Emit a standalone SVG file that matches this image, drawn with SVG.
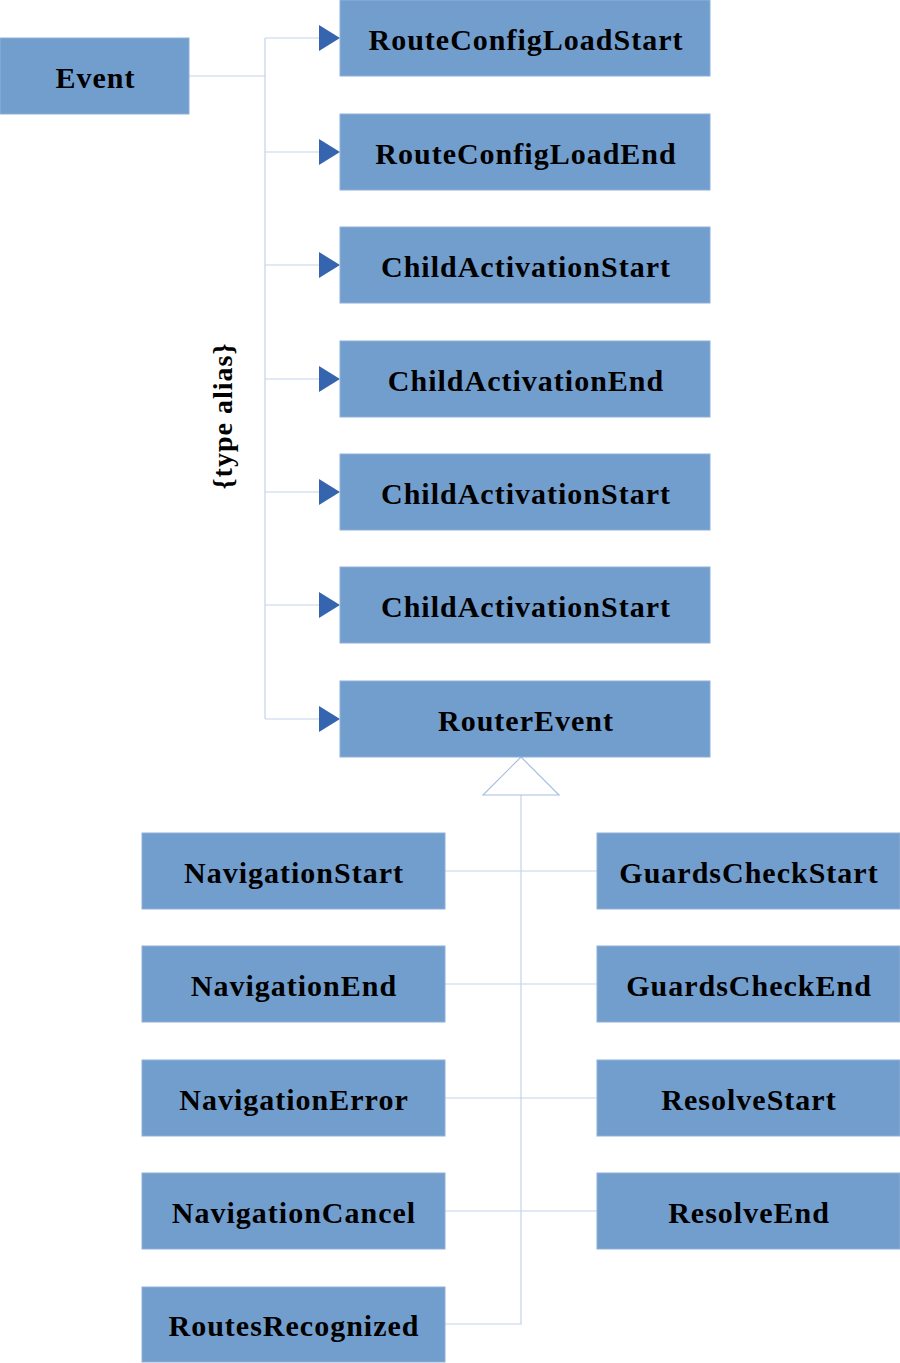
<svg xmlns="http://www.w3.org/2000/svg" width="900" height="1363" viewBox="0 0 900 1363">
<defs>
<style>
.box{fill:#729ece;stroke:#8fb0d8;stroke-width:1}
.t{font-family:"Liberation Serif",serif;font-weight:bold;font-size:30px;letter-spacing:1px;fill:#000;text-anchor:middle;dominant-baseline:central}
.ta{font-family:"Liberation Serif",serif;font-weight:bold;font-size:28px;letter-spacing:1px;fill:#000;text-anchor:middle;dominant-baseline:central}
.ln{fill:none;stroke:#c3d3ea;stroke-width:1.2}
.ah{fill:#3465ae}
</style>
</defs>
<rect width="900" height="1363" fill="#fff"/>
<g id="connectors">
<path class="ln" d="M189,76H265M265,38V719M265,38H320M265,152H320M265,265H320M265,379H320M265,492H320M265,605H320M265,719H320"/>
<polygon class="ah" points="319,25 340,38 319,51"/>
<polygon class="ah" points="319,139 340,152 319,165"/>
<polygon class="ah" points="319,252 340,265 319,278"/>
<polygon class="ah" points="319,366 340,379 319,392"/>
<polygon class="ah" points="319,479 340,492 319,505"/>
<polygon class="ah" points="319,592 340,605 319,618"/>
<polygon class="ah" points="319,706 340,719 319,732"/>
<path class="ln" d="M521,795V1324H445M445,871H597M445,984H597M445,1098H597M445,1211H597"/>
<polygon points="521,757 559,795 483,795" fill="#fff" stroke="#a7bfe0" stroke-width="1.2"/>
<text class="ta" transform="translate(222,416) rotate(-90)">{type alias}</text>
</g>
<g id="event"><rect class="box" x="0" y="38" width="189" height="76"/><text class="t" x="95.5" y="77">Event</text></g>
<g id="routeConfigLoadStart"><rect class="box" x="340" y="0" width="370" height="76"/><text class="t" x="526" y="39">RouteConfigLoadStart</text></g>
<g id="routeConfigLoadEnd"><rect class="box" x="340" y="114" width="370" height="76"/><text class="t" x="526" y="153">RouteConfigLoadEnd</text></g>
<g id="childActivationStart1"><rect class="box" x="340" y="227" width="370" height="76"/><text class="t" x="526" y="266">ChildActivationStart</text></g>
<g id="childActivationEnd"><rect class="box" x="340" y="341" width="370" height="76"/><text class="t" x="526" y="380">ChildActivationEnd</text></g>
<g id="childActivationStart2"><rect class="box" x="340" y="454" width="370" height="76"/><text class="t" x="526" y="493">ChildActivationStart</text></g>
<g id="childActivationStart3"><rect class="box" x="340" y="567" width="370" height="76"/><text class="t" x="526" y="606">ChildActivationStart</text></g>
<g id="routerEvent"><rect class="box" x="340" y="681" width="370" height="76"/><text class="t" x="526" y="720">RouterEvent</text></g>
<g id="navigationStart"><rect class="box" x="142" y="833" width="303" height="76"/><text class="t" x="294" y="872">NavigationStart</text></g>
<g id="navigationEnd"><rect class="box" x="142" y="946" width="303" height="76"/><text class="t" x="294" y="985">NavigationEnd</text></g>
<g id="navigationError"><rect class="box" x="142" y="1060" width="303" height="76"/><text class="t" x="294" y="1099">NavigationError</text></g>
<g id="navigationCancel"><rect class="box" x="142" y="1173" width="303" height="76"/><text class="t" x="294" y="1212">NavigationCancel</text></g>
<g id="routesRecognized"><rect class="box" x="142" y="1287" width="303" height="75"/><text class="t" x="294" y="1325">RoutesRecognized</text></g>
<g id="guardsCheckStart"><rect class="box" x="597" y="833" width="303" height="76"/><text class="t" x="749" y="872">GuardsCheckStart</text></g>
<g id="guardsCheckEnd"><rect class="box" x="597" y="946" width="303" height="76"/><text class="t" x="749" y="985">GuardsCheckEnd</text></g>
<g id="resolveStart"><rect class="box" x="597" y="1060" width="303" height="76"/><text class="t" x="749" y="1099">ResolveStart</text></g>
<g id="resolveEnd"><rect class="box" x="597" y="1173" width="303" height="76"/><text class="t" x="749" y="1212">ResolveEnd</text></g>
</svg>
